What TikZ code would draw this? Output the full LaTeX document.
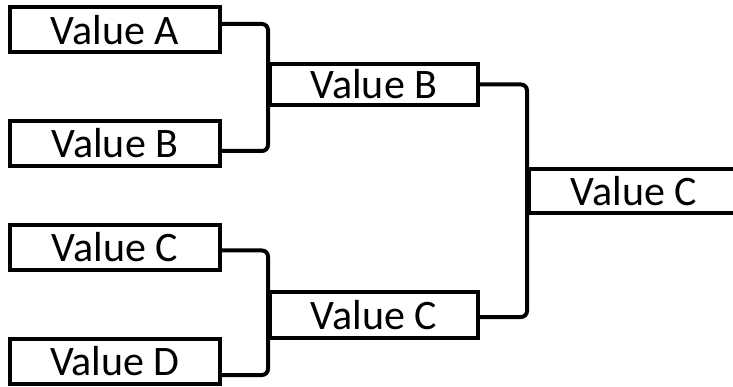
\documentclass[tikz,border=0pt]{standalone}
\usepackage{fontspec}
\setmainfont{Carlito}
\begin{document}
\begin{tikzpicture}[x=1pt,y=-1pt,
  team/.style={draw=black, line width=4pt, fill=white, minimum width=210pt,
    minimum height=45pt, inner sep=0pt, font=\fontsize{42}{42}\selectfont},
  link/.style={draw=black, line width=4pt, rounded corners=6pt}]
\useasboundingbox (0,0) rectangle (733,387);

% first round
\node[team] (A)  at (115,30)    {Value A};
\node[team] (B)  at (115,143.5) {Value B};
\node[team] (C)  at (115,247.5) {Value C};
\node[team] (D)  at (115,361.5) {Value D};

% second round
\node[team, minimum width=208pt, minimum height=41pt] (AB) at (374,84.5) {Value B};
\node[team, minimum width=208pt, minimum height=46pt] (CD) at (374,315)  {Value C};

% final
\node[team, minimum height=44pt] (F) at (634,191) {Value C};

% brackets
\draw[link] ([yshift=6pt]A.east) -| (AB.west) |- ([yshift=-7.5pt]B.east);
\draw[link] ([yshift=-3pt]C.east) -| (CD.west) |- ([yshift=-13.5pt]D.east);
\draw[link] (AB.east) -| (F.west) |- ([yshift=-2pt]CD.east);
\end{tikzpicture}
\end{document}
